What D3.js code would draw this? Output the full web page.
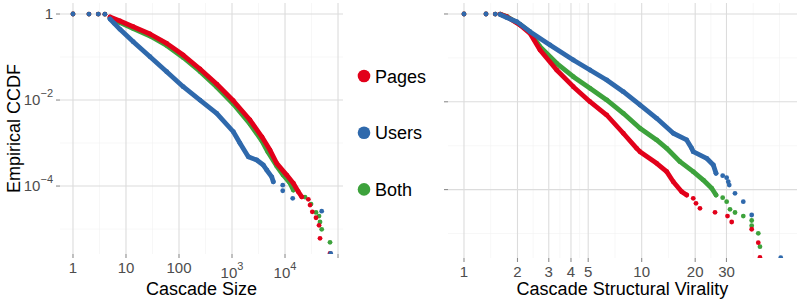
<!DOCTYPE html>
<html lang="en">
<head>
  <meta charset="UTF-8">
  <title>Cascade CCDF</title>
  <script src="https://d3js.org/d3.v7.min.js"></script>
  <style>
    body {
      margin: 0;
      padding: 0;
      background: white;
      font-family: "Liberation Sans", Arial, sans-serif;
    }
    .tick-label { fill: #4d4d4d; font-size: 15px; }
    .axis-title { fill: #000; font-size: 18px; }
    .legend-label { fill: #000; font-size: 18px; }
  </style>
</head>
<body>
  <svg id="chart" width="800" height="300"></svg>

  <script>
    // ---- data (x value, CCDF) ----
    const seriesNames = ["Pages", "Users", "Both"];
    const seriesColors = ["#e2001a", "#2f69ac", "#3da23c"];

    // left panel: cascade size
    const sizePagesBand = [[5,0.851],[7.71,0.687],[13.7,0.507],[28.4,0.343],[58.6,0.208],[120,0.111],[249,0.0526],[514,0.0235],[1059,0.00963],[2186,0.00343],[3680,0.00138],[5210,0.000687],[6970,0.000337],[10770,0.00018],[14350,0.000116],[17830,7.37e-5],[20660,5.63e-5]];
    const sizePagesDots = [[1,1],[2,0.999],[3,0.997],[4,0.993],[27540,4.91e-5],[29650,3.62e-5],[32740,2.52e-5],[38460,1.83e-5],[43850,1.22e-5],[45750,6.08e-6],[70630,2.72e-6]];
    const sizeUsersBand = [[5,0.765],[6,0.608],[7.7,0.44],[13.7,0.227],[28.4,0.1016],[58.6,0.0455],[120,0.0204],[249,0.01],[514,0.00491],[1059,0.00183],[1416,0.000985],[2030,0.00048],[2925,0.000403],[3900,0.000308],[4514,0.000236],[5610,0.000164],[6010,0.000126]];
    const sizeUsersDots = [[1,1],[2,0.999],[3,0.997],[4,0.993],[9060,0.000105],[9060,7.78e-5],[13970,5.18e-5],[49200,2.6e-5],[72800,2.7e-6]];
    const sizeBothBand = [[5,0.807],[7.71,0.634],[13.7,0.46],[28.4,0.308],[58.6,0.185],[120,0.0973],[249,0.046],[514,0.02],[1059,0.00807],[2186,0.00277],[3680,0.00111],[4760,0.000618],[6970,0.000292],[9240,0.00018],[12470,0.000116],[14350,8.07e-5]];
    const sizeBothDots = [[1,1],[2,0.999],[3,0.997],[4,0.993],[23850,5.55e-5],[30970,3.81e-5],[38460,2.44e-5],[43850,2.0e-5],[45750,1.46e-5],[49250,9.84e-6],[70630,4.91e-6]];

    // right panel: structural virality
    const viralityPagesBand = [[1.6,0.99],[1.74,0.868],[2.066,0.5615],[2.352,0.3634],[2.678,0.1514],[3.324,0.053],[4.122,0.0221],[5.117,0.01005],[6.353,0.005],[7.88,0.00192],[9.37,0.000872],[9.78,0.00073],[12.14,0.000397],[13.83,0.000256],[15.06,0.000151],[16.8,8.96e-5],[17.91,7.53e-5]];
    const viralityPagesDots = [[1,1],[1.33,0.998],[1.5,0.995],[19.5,6.34e-5],[20.21,4.88e-5],[21.28,3.75e-5],[25.86,3.04e-5],[30.4,2.5e-5],[32.1,1.83e-5],[41.6,1.25e-5],[45.3,6.17e-6],[46.3,2.84e-6]];
    const viralityUsersBand = [[1.6,0.97],[1.74,0.83],[1.98,0.668],[2.352,0.395],[3.048,0.197],[4.122,0.0895],[5.117,0.053],[6.353,0.0314],[7.88,0.017],[9.78,0.00845],[12.14,0.0042],[15.06,0.00192],[17.91,0.00135],[19.11,0.000872],[19.5,0.00073],[23.2,0.000516],[25.3,0.000363],[26.2,0.000235]];
    const viralityUsersDots = [[1,1],[1.33,0.998],[1.5,0.995],[28.56,0.000207],[30.07,0.000187],[30.7,0.000151],[31.1,0.000127],[33.5,8.24e-5],[37.3,5.3e-5],[41.6,2.64e-5],[60.6,2.81e-6]];
    const viralityBothBand = [[1.6,0.99],[1.74,0.877],[2.066,0.577],[2.352,0.389],[2.678,0.18],[3.324,0.0753],[4.122,0.0373],[5.117,0.0203],[6.353,0.011],[7.88,0.00547],[9.78,0.00249],[12.14,0.00135],[13.83,0.000872],[16.43,0.000432],[19.5,0.000256],[22.22,0.000165],[24.77,0.000107],[26.2,7.53e-5]];
    const viralityBothDots = [[1,1],[1.33,0.998],[1.5,0.995],[28.56,6.54e-5],[30.07,5.3e-5],[31.4,3.56e-5],[33.5,3.01e-5],[37.3,2.5e-5],[41.6,1.98e-5],[41.6,1.51e-5],[45.3,1.01e-5],[46.3,5.0e-6]];

    // ---- tick breaks and labels ----
    const sizeXMajor = [1, 10, 100, 1e3, 1e4, 1e5];
    const sizeXLabels = ["1", "10", "100", "10^3", "10^4", ""];
    const sizeXMinor = [3.162, 31.62, 316.2, 3162, 31623];
    const viralityXMajor = [1, 2, 3, 4, 5, 10, 20, 30];
    const viralityXLabels = ["1", "2", "3", "4", "5", "10", "20", "30"];
    const viralityXMinor = [1.414, 2.449, 3.464, 4.472, 7.071, 14.14, 24.49, 42.43, 59.6];
    const yMajor = [1, 1e-2, 1e-4];
    const yLabels = ["1", "10^\u22122", "10^\u22124"];
    const yMinor = [1e-1, 1e-3, 1e-5];

    const svg = d3.select("#chart");

    // scales (log-log); the right panel sits a bit lower because its labels have no superscripts
    const xSize = d3.scaleLog().domain([Math.pow(10, -0.245), Math.pow(10, 5.094)]).range([60, 343]);
    const ySize = d3.scaleLog().domain([Math.pow(10, -5.58), Math.pow(10, 0.256)]).range([254, 3]);
    const xVir = d3.scaleLog().domain([Math.pow(10, -0.09), Math.pow(10, 1.874)]).range([448, 797]);
    const yVir = d3.scaleLog().domain([Math.pow(10, -5.558), Math.pow(10, 0.25)]).range([258, 3]);

    // write "10^3" style labels with a raised exponent
    function powerLabel(sel, label, supDy) {
      const parts = label.split("^");
      sel.append("tspan").text(parts[0]);
      if (parts.length > 1) {
        sel.append("tspan")
          .attr("dy", -supDy)
          .attr("font-size", "11px")
          .text(parts[1]);
      }
    }

    function drawPanel(p) {
      const [x0, x1] = p.x.range();
      const [y1, y0] = p.y.range();
      const g = svg.append("g");

      // minor grid
      g.selectAll(".vminor").data(p.xMinor).enter().append("line")
        .attr("x1", d => p.x(d)).attr("x2", d => p.x(d))
        .attr("y1", y0).attr("y2", y1)
        .attr("stroke", "#f2f2f2").attr("stroke-width", 0.6);
      g.selectAll(".hminor").data(p.yMinor).enter().append("line")
        .attr("x1", x0).attr("x2", x1)
        .attr("y1", d => p.y(d)).attr("y2", d => p.y(d))
        .attr("stroke", "#f2f2f2").attr("stroke-width", 0.6);

      // major grid
      g.selectAll(".vmajor").data(p.xMajor).enter().append("line")
        .attr("x1", d => p.x(d)).attr("x2", d => p.x(d))
        .attr("y1", y0).attr("y2", y1)
        .attr("stroke", "#dcdcdc").attr("stroke-width", 1.1);
      g.selectAll(".hmajor").data(yMajor).enter().append("line")
        .attr("x1", x0).attr("x2", x1)
        .attr("y1", d => p.y(d)).attr("y2", d => p.y(d))
        .attr("stroke", "#dcdcdc").attr("stroke-width", 1.1);

      // tick marks
      g.selectAll(".xtick").data(p.xMajor).enter().append("line")
        .attr("x1", d => p.x(d)).attr("x2", d => p.x(d))
        .attr("y1", y1).attr("y2", y1 + 4)
        .attr("stroke", "#8c8c8c").attr("stroke-width", 1.1);
      g.selectAll(".ytick").data(yMajor).enter().append("line")
        .attr("x1", x0 - 4).attr("x2", x0)
        .attr("y1", d => p.y(d)).attr("y2", d => p.y(d))
        .attr("stroke", "#8c8c8c").attr("stroke-width", 1.1);

      // x tick labels (top-aligned, so superscript labels sit lower)
      p.xMajor.forEach((v, i) => {
        const lab = p.xLabels[i];
        if (!lab) return;
        const t = g.append("text").attr("class", "tick-label")
          .attr("x", p.x(v))
          .attr("y", lab.includes("^") ? y1 + 23.7 : y1 + 19)
          .attr("text-anchor", "middle");
        powerLabel(t, lab, 7.5);
      });

      // y tick labels (left panel only)
      if (p.showY) {
        yMajor.forEach((v, i) => {
          const t = g.append("text").attr("class", "tick-label")
            .attr("x", x0 - 7)
            .attr("y", p.y(v) + 5.4)
            .attr("text-anchor", "end");
          powerLabel(t, yLabels[i], 8);
        });
        svg.append("text").attr("class", "axis-title")
          .attr("transform", `translate(20,${(y0 + y1) / 2}) rotate(-90)`)
          .attr("text-anchor", "middle")
          .text("Empirical CCDF");
      }

      svg.append("text").attr("class", "axis-title")
        .attr("x", (x0 + x1) / 2).attr("y", 295)
        .attr("text-anchor", "middle")
        .text(p.title);

      // clip the marks to the panel
      svg.append("clipPath").attr("id", p.clipId)
        .append("rect").attr("x", x0).attr("y", y0)
        .attr("width", x1 - x0).attr("height", y1 - y0);
      const marks = g.append("g").attr("clip-path", `url(#${p.clipId})`);

      const line = d3.line().x(d => p.x(d[0])).y(d => p.y(d[1]));

      // draw Both first, then Pages, then Users on top
      [2, 0, 1].forEach(k => {
        const s = p.series[k];
        marks.append("path").datum(s.band)
          .attr("d", line)
          .attr("fill", "none")
          .attr("stroke", seriesColors[k])
          .attr("stroke-width", 4.8)
          .attr("stroke-linecap", "round")
          .attr("stroke-linejoin", "round");
        marks.selectAll(".pt" + k).data(s.band.concat(s.dots)).enter().append("circle")
          .attr("cx", d => p.x(d[0]))
          .attr("cy", d => p.y(d[1]))
          .attr("r", 2.4)
          .attr("fill", seriesColors[k]);
      });
    }

    drawPanel({
      x: xSize, y: ySize, clipId: "clipL", showY: true,
      xMajor: sizeXMajor, xLabels: sizeXLabels, xMinor: sizeXMinor, yMinor: yMinor,
      title: "Cascade Size",
      series: [
        { band: sizePagesBand, dots: sizePagesDots },
        { band: sizeUsersBand, dots: sizeUsersDots },
        { band: sizeBothBand, dots: sizeBothDots }
      ]
    });

    drawPanel({
      x: xVir, y: yVir, clipId: "clipR", showY: false,
      xMajor: viralityXMajor, xLabels: viralityXLabels, xMinor: viralityXMinor, yMinor: yMinor,
      title: "Cascade Structural Virality",
      series: [
        { band: viralityPagesBand, dots: viralityPagesDots },
        { band: viralityUsersBand, dots: viralityUsersDots },
        { band: viralityBothBand, dots: viralityBothDots }
      ]
    });

    // legend between the panels
    const legend = svg.append("g").selectAll("g")
      .data(seriesNames).enter().append("g")
      .attr("transform", (d, i) => `translate(364,${76 + i * 56.7})`);
    legend.append("circle").attr("r", 6.3).attr("fill", (d, i) => seriesColors[i]);
    legend.append("text").attr("class", "legend-label")
      .attr("x", 11).attr("y", 6.6)
      .text(d => d);
  </script>
</body>
</html>
